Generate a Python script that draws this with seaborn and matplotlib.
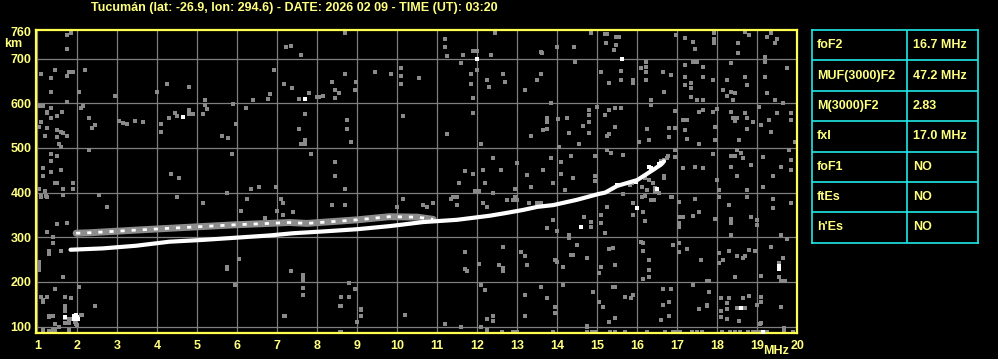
"""
Ionogram recreation: Tucuman station, F2 trace and parameter table
"""
import numpy as np
import pandas as pd
import matplotlib.pyplot as plt
import seaborn as sns

title = "Tucumán (lat: -26.9, lon: 294.6) - DATE: 2026 02 09 - TIME (UT): 03:20"

freq_ticks = list(range(1, 21))
height_ticks = [100, 200, 300, 400, 500, 600, 700]
top_height = 760

# ordinary F2 trace (MHz, km)
o_freq = [1.83, 2.63, 3.47, 4.3, 5.13, 5.97, 6.8, 7.4, 8.15, 9.0, 9.82, 10.65, 11.49,
          12.3, 12.7, 13.14, 13.5, 13.9, 14.5, 15.04, 15.2, 15.5, 16.0, 16.4, 16.6, 16.67]
o_height = [272, 275, 281, 290, 294, 299, 304, 309, 313, 318, 325, 334, 339,
            348, 354, 361, 368, 372, 384, 397, 400, 415, 428, 451, 463, 470]

# upper (mottled) echo band
up_freq = [1.97, 2.3, 3.47, 4.3, 5.13, 5.97, 6.8, 7.3, 7.74, 9.0, 9.8, 10.5, 10.9]
up_height = [309, 310, 316, 320, 324, 328, 331, 333, 331, 339, 346, 345, 340]

# cusp region near foF2
cusp_freq = [15.82, 15.87, 15.93, 16.2, 16.3, 16.4, 16.45, 16.45, 16.67, 16.67, 16.6, 16.68, 16.74, 16.77]
cusp_height = [417, 421, 424, 432, 428, 422, 410, 402, 432, 436, 470, 474, 478, 481]

# bright isolated echoes
white_freq = [4.64, 11.99, 7.69, 15.63, 1.70, 1.92, 1.97, 2.0, 1.92, 2.01, 14.59, 15.99,
              19.54, 19.54, 18.59, 19.14, 16.5, 16.3, 16.35, 16.55, 16.6, 15.96, 15.49]
white_height = [570, 699, 610, 700, 121, 124, 126, 122, 117, 116, 322, 365,
                229, 235, 141, 89, 407, 458, 455, 463, 466, 424, 417]

# gray noise echoes, left part (1-7 MHz)
noise_a_freq = [1.74, 1.84, 1.74, 7.23, 1.08, 1.44, 1.34, 1.79, 1.89, 1.74, 2.19, 1.34, 2.04, 2.94,
                3.98, 4.24, 4.78, 6.93, 7.18, 6.83, 6.78, 6.39, 5.18, 1.74, 1.05, 1.15, 1.23, 1.23,
                1.34, 1.62, 1.49, 1.34, 1.09, 1.03, 1.23, 1.48, 1.59, 1.63, 1.49, 1.73, 1.19, 1.55,
                1.59, 2.09, 2.14, 2.28, 2.37, 2.44, 3.03, 3.13, 3.24, 3.43, 3.63, 4.09, 4.09, 4.28,
                4.43, 4.49, 4.78, 4.78, 4.88, 5.13, 5.23, 5.19, 5.89, 6.23, 5.98, 5.63, 5.78, 2.28,
                5.88, 1.34, 1.49, 1.34, 1.13, 1.34, 1.13, 1.59, 1.44, 1.49, 1.88, 1.64, 1.88, 1.03,
                1.19, 1.08, 1.24, 1.64, 2.54, 4.34, 4.54, 4.49, 6.34, 6.54, 6.98, 5.74, 6.24, 7.09,
                1.22, 1.09, 1.63, 2.74, 5.13, 6.09, 6.69, 6.99, 7.14, 7.14, 1.49, 1.74, 1.23, 1.39,
                1.39, 1.30, 1.30, 1.59, 1.04, 1.04, 1.04, 1.64, 6.04, 5.74, 5.74, 5.94, 2.04, 1.44,
                1.09, 1.14, 1.24, 1.69, 1.84, 2.44, 1.29, 1.39, 1.69, 1.70, 1.79, 1.45, 1.54, 1.14,
                1.29, 1.39, 1.44, 1.79, 7.18, 1.78, 1.83, 1.93, 1.96, 1.98, 2.08, 2.12, 1.93, 1.13,
                1.69, 1.69, 1.69, 2.44, 1.29, 1.40, 1.44, 1.29, 1.35, 1.45, 1.80, 7.19]
noise_a_height = [753, 758, 721, 726, 665, 674, 657, 670, 670, 661, 674, 626, 626, 617,
                  626, 643, 637, 674, 643, 620, 609, 607, 607, 603, 594, 594, 581, 578,
                  590, 581, 571, 568, 559, 547, 545, 540, 536, 533, 525, 527, 527, 509,
                  501, 590, 594, 567, 545, 551, 561, 556, 553, 561, 559, 553, 536, 568,
                  579, 571, 585, 576, 576, 576, 587, 597, 598, 590, 553, 527, 522, 495,
                  486, 486, 482, 471, 455, 445, 437, 451, 421, 421, 421, 408, 408, 408,
                  404, 391, 391, 395, 395, 442, 433, 391, 409, 413, 413, 400, 386, 386,
                  392, 392, 395, 368, 376, 359, 342, 359, 376, 350, 329, 331, 312, 301,
                  288, 270, 262, 270, 245, 236, 227, 212, 252, 234, 230, 193, 189, 185,
                  166, 160, 167, 166, 163, 146, 122, 124, 137, 119, 109, 106, 99, 93,
                  91, 94, 94, 93, 124, 118, 116, 110, 106, 103, 126, 126, 113, 156,
                  146, 134, 108, 146, 124, 124, 106, 89, 91, 93, 93, 124]

# gray noise echoes, middle part (7-14 MHz)
noise_b_freq = [8.69, 7.34, 7.59, 11.19, 11.19, 11.24, 11.64, 11.89, 11.99, 12.34, 12.44, 13.59, 13.63,
                11.59, 11.99, 11.84, 11.84, 11.89, 12.24, 12.29, 12.64, 12.69, 13.19, 13.49, 13.59,
                10.09, 10.09, 10.09, 10.54, 9.84, 9.44, 8.69, 8.38, 8.44, 8.54, 8.44, 8.94, 8.98,
                8.14, 7.38, 7.79, 7.54, 8.0, 8.05, 7.69, 7.54, 7.69, 7.59, 7.69, 7.84, 8.74, 8.74,
                8.84, 10.14, 11.24, 11.89, 12.09, 13.34, 13.64, 8.44, 8.44, 8.69, 12.39, 12.99,
                11.69, 11.89, 12.14, 12.59, 13.24, 13.34, 13.64, 11.54, 12.19, 11.94, 12.04, 12.39,
                12.94, 12.94, 11.49, 11.35, 10.14, 7.39, 8.38, 8.69, 9.99, 10.64, 10.74, 10.9,
                11.39, 11.49, 12.39, 12.14, 12.24, 12.74, 12.89, 12.99, 13.29, 13.49, 13.59, 11.69,
                11.69, 11.74, 12.04, 12.64, 13.09, 13.19, 13.24, 12.54, 12.64, 12.64, 7.35, 7.64,
                7.64, 7.64, 7.64, 7.64, 8.79, 8.94, 8.59, 8.79, 8.59, 9.09, 9.09, 10.19, 11.19,
                12.09, 12.19, 12.39, 12.39, 12.24, 13.19, 13.19, 13.59, 11.59, 12.09, 12.25, 8.59,
                12.89, 12.99, 8.57, 9.09, 9.09, 8.99, 8.57, 12.62, 12.89, 13.89, 13.84, 13.74,
                13.74, 13.74, 13.99, 13.84, 13.89, 13.94, 13.94, 13.74, 13.99, 13.74, 13.89]
noise_b_height = [758, 729, 708, 744, 726, 706, 708, 717, 717, 708, 758, 715, 713,
                  691, 674, 666, 644, 612, 652, 637, 666, 648, 630, 653, 666,
                  679, 662, 644, 657, 666, 670, 666, 648, 630, 624, 612, 630, 648,
                  617, 635, 624, 610, 615, 615, 576, 542, 518, 509, 509, 486, 562, 542,
                  514, 571, 531, 579, 509, 527, 540, 468, 437, 408, 477, 467,
                  449, 442, 451, 451, 439, 413, 451, 422, 422, 404, 404, 400,
                  408, 391, 391, 386, 386, 357, 372, 372, 368, 372, 368, 376,
                  389, 372, 398, 376, 368, 383, 383, 383, 377, 376, 376, 266,
                  228, 225, 239, 279, 268, 257, 238, 238, 231, 225, 225, 216,
                  211, 204, 186, 171, 197, 185, 167, 167, 145, 139, 124, 126, 106,
                  193, 182, 124, 113, 117, 171, 124, 188, 99, 99, 93, 89,
                  89, 89, 146, 137, 124, 111, 89, 88, 88, 88, 600, 568,
                  559, 542, 726, 478, 421, 143, 130, 164, 315, 320, 339]

# gray noise echoes, right part (14-20 MHz)
noise_c_freq = [14.84, 15.19, 15.24, 15.48, 15.54, 15.43, 15.23, 15.48, 14.43, 16.98, 17.19, 17.39, 17.44,
                17.93, 17.93, 17.93, 18.53, 18.53, 18.69, 18.79, 19.24, 19.34, 19.49, 19.44, 19.19,
                14.44, 15.59, 15.59, 15.89, 15.89, 15.09, 15.29, 16.23, 16.23, 16.23, 16.23, 16.09,
                16.64, 16.84, 16.68, 16.34, 17.19, 17.19, 17.39, 17.49, 17.64, 17.64, 17.34, 17.34,
                17.34, 17.19, 17.49, 17.64, 17.89, 18.24, 18.34, 18.69, 18.74, 18.14, 18.24, 18.34,
                18.44, 18.39, 19.19, 19.19, 19.74, 19.24, 19.44, 19.64, 14.02, 14.24, 14.79, 14.79,
                14.79, 14.79, 14.65, 14.29, 14.54, 14.04, 14.99, 15.29, 15.44, 15.59, 15.19, 15.44,
                15.24, 15.29, 16.34, 16.24, 16.79, 16.94, 16.94, 16.79, 16.29, 16.04, 17.14, 17.24,
                17.19, 17.24, 17.54, 17.64, 17.89, 17.99, 17.94, 17.94, 17.54, 18.34, 18.39, 18.49,
                18.44, 18.69, 18.74, 18.89, 18.54, 18.74, 19.09, 19.29, 19.34, 19.49, 19.84, 19.94,
                19.04, 19.84, 14.09, 14.09, 14.34, 14.94, 15.24, 15.34, 15.64, 14.94, 14.94, 14.39,
                14.19, 15.64, 16.94, 16.94, 17.14, 17.44, 17.64, 17.89, 17.99, 18.04, 18.34, 18.44,
                18.49, 18.59, 18.64, 18.34, 18.49, 18.84, 18.74, 19.14, 19.39, 19.59, 19.79, 19.84,
                19.84, 19.14, 16.13, 16.24, 16.13, 16.84, 16.19, 16.34, 16.42, 16.54, 16.87, 17.44,
                17.04, 18.04, 18.29, 18.75, 19.39, 19.84, 15.24, 15.89, 15.89, 16.14, 16.19, 17.04,
                17.14, 17.04, 17.04, 17.39, 17.54, 17.94, 18.34, 18.34, 18.84, 18.99, 18.99, 19.39,
                18.34, 19.59, 19.74, 14.67, 14.84, 14.84, 14.29, 14.29, 15.09, 15.09, 15.19, 14.49,
                14.34, 14.39, 14.74, 13.94, 13.99, 14.14, 15.09, 15.04, 15.39, 15.29, 15.44, 16.14,
                16.09, 16.14, 16.29, 16.29, 16.29, 16.14, 16.89, 17.04, 17.04, 17.24, 17.59, 17.74,
                17.79, 18.04, 18.04, 18.14, 18.29, 18.44, 18.49, 18.64, 18.69, 18.79, 18.94, 19.34,
                19.54, 19.54, 19.59, 19.69, 19.64, 19.09, 14.14, 14.89, 15.04, 15.39, 15.44, 15.69,
                15.84, 15.89, 15.15, 15.44, 15.29, 14.74, 16.64, 16.84, 16.64, 16.79, 16.79, 16.59,
                17.39, 17.54, 17.79, 17.74, 17.74, 18.09, 18.29, 18.64, 18.24, 18.24, 18.09, 18.09,
                18.24, 18.69, 18.49, 18.54, 18.79, 19.09, 19.09, 18.99, 19.59, 19.09, 19.67, 19.67,
                19.67, 14.74, 14.87, 14.94, 15.32, 15.44, 15.69, 16.24, 16.69, 16.89, 16.94, 17.07,
                17.36, 17.49, 17.61, 18.11, 18.32, 18.44, 18.57, 18.77, 18.89, 18.99, 19.07, 19.24,
                19.9, 14.74, 19.07]
noise_c_height = [758, 756, 754, 749, 749, 719, 734, 730, 726, 753, 747, 738, 721,
                  758, 744, 735, 735, 713, 760, 753, 749, 758, 744, 735, 704,
                  693, 673, 652, 652, 645, 670, 645, 693, 682, 670, 652, 679,
                  670, 663, 626, 607, 685, 659, 693, 693, 682, 659, 645, 633,
                  615, 641, 607, 607, 652, 652, 689, 659, 641, 630, 616, 626,
                  624, 607, 693, 659, 679, 622, 607, 601, 564, 566, 585, 574,
                  559, 533, 549, 533, 509, 503, 592, 585, 589, 589, 574, 546,
                  527, 531, 596, 542, 544, 544, 583, 525, 518, 514, 562, 562,
                  540, 521, 581, 585, 581, 586, 547, 518, 509, 581, 566, 568,
                  561, 577, 568, 559, 518, 542, 551, 562, 536, 577, 562, 514,
                  591, 577, 469, 442, 482, 482, 495, 489, 484, 436, 427, 433,
                  406, 397, 495, 480, 454, 458, 454, 486, 428, 406, 482, 481,
                  495, 488, 477, 458, 437, 462, 406, 480, 437, 458, 495, 473,
                  451, 413, 413, 406, 391, 391, 392, 383, 383, 398, 391, 386,
                  380, 391, 372, 391, 386, 376, 368, 376, 350, 357, 337, 346,
                  346, 331, 324, 348, 357, 340, 340, 331, 346, 339, 328, 365,
                  305, 305, 296, 346, 335, 324, 305, 298, 350, 331, 310, 283,
                  260, 260, 253, 249, 245, 233, 233, 221, 275, 273, 238, 287,
                  290, 270, 249, 227, 212, 206, 283, 287, 266, 273, 249, 203,
                  203, 264, 243, 248, 270, 210, 257, 253, 257, 272, 270, 279,
                  242, 210, 203, 203, 253, 213, 193, 178, 156, 189, 189, 167,
                  163, 171, 143, 119, 111, 100, 184, 184, 149, 156, 124, 115,
                  193, 139, 178, 149, 145, 164, 164, 164, 152, 139, 134, 121,
                  117, 141, 141, 113, 169, 166, 154, 149, 143, 108, 88, 93,
                  97, 88, 88, 88, 88, 88, 88, 88, 88, 88, 88, 88,
                  88, 88, 88, 88, 88, 88, 88, 88, 88, 88, 88, 88,
                  88, 102, 106]

params = ["foF2", "MUF(3000)F2", "M(3000)F2", "fxI", "foF1", "ftEs", "h'Es"]
values = ["16.7 MHz", "47.2 MHz", "2.83", "17.0 MHz", "NO", "NO", "NO"]

TEXT = '#ffff80'
BORDER = '#ffff50'
GRID = '#7f7f7f'
NOISE = '#8a8a8a'
CYAN = '#20e8e8'

sns.set_theme(style="dark", rc={"axes.facecolor": "black", "figure.facecolor": "black"})
plt.rcParams['font.family'] = ['Liberation Sans', 'DejaVu Sans']
plt.rcParams['font.weight'] = 'bold'

fig = plt.figure(figsize=(9.98, 3.59), dpi=100)
ax = fig.add_axes([0.0358, 0.0716, 0.763, 0.8462])
ax.set_facecolor('black')

# grid
for f in freq_ticks:
    ax.axvline(f, color=GRID, lw=0.9, zorder=0)
for h in height_ticks:
    ax.axhline(h, color=GRID, lw=0.9, zorder=0)

noise = pd.DataFrame({
    'freq': noise_a_freq + noise_b_freq + noise_c_freq + cusp_freq,
    'height': noise_a_height + noise_b_height + noise_c_height + cusp_height,
})
sns.scatterplot(data=noise, x='freq', y='height', color=NOISE, marker='s', s=5,
                linewidth=0, ax=ax, zorder=2)

# upper mottled band: gray with white speckle
sns.lineplot(x=up_freq, y=up_height, color='#8c8c8c', lw=5, sort=False, estimator=None, ax=ax, zorder=3)
ax.plot(up_freq, up_height, color='white', lw=2, ls=(0, (1.5, 2.5)), zorder=4)

# ordinary trace
sns.lineplot(x=o_freq, y=o_height, color='white', lw=3, sort=False, estimator=None, ax=ax, zorder=5)

sns.scatterplot(x=white_freq, y=white_height, color='white', marker='s', s=5,
                linewidth=0, ax=ax, zorder=6)

ax.set_xlim(0.96, 20.0)
ax.set_ylim(85, 765)
ax.set_xticks(freq_ticks)
ax.set_xticklabels([str(f) for f in freq_ticks])
ax.set_yticks(height_ticks + [top_height])
ax.set_yticklabels([str(h) for h in height_ticks + [top_height]])
ax.tick_params(axis='both', length=0, labelsize=9, colors=TEXT)
ax.tick_params(axis='x', pad=5)
ax.tick_params(axis='y', pad=3)
for lab in ax.get_xticklabels() + ax.get_yticklabels():
    lab.set_fontweight('bold')
ax.set_xlabel('')
ax.set_ylabel('')
ax.grid(False)
for sp in ax.spines.values():
    sp.set_visible(True)
    sp.set_color(BORDER)
    sp.set_linewidth(1.6)

fig.text(0.2946, 0.978, title, color=TEXT, fontsize=9, fontweight='bold', ha='center', va='center')
fig.text(0.013, 0.877, 'km', color=TEXT, fontsize=9, fontweight='bold', ha='center', va='center')
fig.text(0.7775, 0.022, 'MHz', color=TEXT, fontsize=9, fontweight='bold', ha='center', va='center')

# parameter table
tab = fig.add_axes([0.8136, 0.324, 0.1664, 0.5924])
tab.set_facecolor('black')
tab.set_xlim(0, 1)
tab.set_ylim(0, len(params))
tab.set_xticks([])
tab.set_yticks([])
tab.grid(False)
for sp in tab.spines.values():
    sp.set_visible(True)
    sp.set_color(CYAN)
    sp.set_linewidth(1.2)
for i in range(1, len(params)):
    tab.axhline(i, color=CYAN, lw=1.2)
tab.axvline(0.572, color=CYAN, lw=1.2)
for i, (p, v) in enumerate(zip(params, values)):
    yc = len(params) - i - 0.5
    tab.text(0.03, yc, p, color=TEXT, fontsize=9, fontweight='bold', va='center', ha='left')
    tab.text(0.608, yc, v, color=TEXT, fontsize=9, fontweight='bold', va='center', ha='left')

fig.savefig('out.png', dpi=100, facecolor='black')
plt.close(fig)
